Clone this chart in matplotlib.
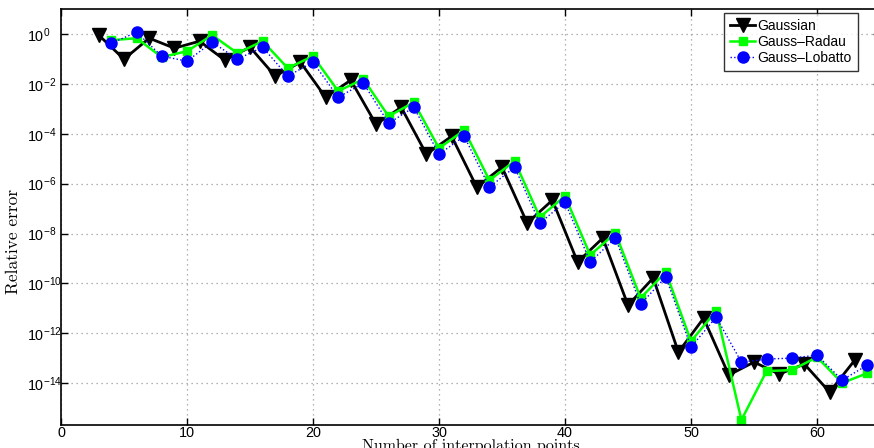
import matplotlib
matplotlib.use("Agg")
import matplotlib.pyplot as plt
import numpy as np
from matplotlib.ticker import FixedLocator, FuncFormatter, NullLocator

plt.rcParams['font.family'] = ['Liberation Sans', 'DejaVu Sans']
plt.rcParams['mathtext.default'] = 'regular'

# Data (log10 of relative error)
x_gauss = [3, 5, 7, 9, 11, 13, 15, 17, 19, 21, 23, 25, 27, 29, 31, 33, 35, 37, 39,
           41, 43, 45, 47, 49, 51, 53, 55, 57, 59, 61, 63]
log_gauss = [-0.05, -1.01, -0.17, -0.57, -0.29, -1.05, -0.53, -1.69, -1.13, -2.54,
             -1.85, -3.62, -2.94, -4.82, -4.10, -6.14, -5.34, -7.58, -6.66, -9.14,
             -8.18, -10.87, -9.78, -12.75, -11.39, -13.67, -13.15, -13.63, -13.23,
             -14.35, -13.07]

x_even = [4, 6, 8, 10, 12, 14, 16, 18, 20, 22, 24, 26, 28, 30, 32, 34, 36, 38, 40,
          42, 44, 46, 48, 50, 52, 54, 56, 58, 60, 62, 64]
log_radau = [-0.25, -0.17, -0.93, -0.69, -0.05, -0.77, -0.29, -1.37, -0.89, -2.29,
             -1.81, -3.30, -2.74, -4.58, -3.86, -5.86, -5.10, -7.34, -6.50, -8.86,
             -7.98, -10.58, -9.54, -12.31, -11.10, -15.47, -13.51, -13.47, -12.95,
             -13.99, -13.59]
log_lobatto = [-0.37, 0.07, -0.89, -1.09, -0.33, -1.01, -0.53, -1.69, -1.13, -2.54,
               -1.97, -3.58, -2.94, -4.82, -4.10, -6.14, -5.34, -7.58, -6.74, -9.14,
               -8.18, -10.83, -9.74, -12.55, -11.35, -13.15, -13.03, -12.99, -12.87,
               -13.87, -13.27]

labels = ['Gaussian', 'Gauss\u2013Radau', 'Gauss\u2013Lobatto']
xticks = [0, 10, 20, 30, 40, 50, 60]
yexps = [0, -2, -4, -6, -8, -10, -12, -14]

W, H = 874, 448
fig = plt.figure(figsize=(W / 100, H / 100), dpi=100)
# axes: x=0 at px 61, 12.6 px/unit; y top px 9, bottom px 425
xmax = 65
ax_w = xmax * 12.6
ax = fig.add_axes([61 / W, 1 - 425 / H, ax_w / W, (425 - 9) / H])

ax.plot(x_gauss, np.power(10.0, log_gauss), color='black', lw=2.0, marker='v',
        markersize=9.5, label=labels[0])
ax.plot(x_even, np.power(10.0, log_radau), color='#00ff00', lw=1.8, marker='s',
        markersize=6, label=labels[1])
ax.plot(x_even, np.power(10.0, log_lobatto), color='#0000ff', lw=1.0, ls=':',
        marker='o', markersize=8, label=labels[2])

ax.set_yscale('log')
ax.set_xlim(0, xmax)
ytop = 1
ybot = -(425 - 33.7) / 24.97
ax.set_ylim(10 ** ybot, 10 ** ytop)

ax.xaxis.set_major_locator(FixedLocator(xticks))
ax.yaxis.set_major_locator(FixedLocator([10.0 ** e for e in yexps]))
ax.yaxis.set_minor_locator(NullLocator())
ax.yaxis.set_major_formatter(FuncFormatter(lambda v, p: '$10^{%d}$' % int(round(np.log10(v)))))
ax.tick_params(direction='in', top=True, right=True, length=5, width=1,
               labelsize=10.4)
ax.tick_params(axis='x', pad=0.8)
# y tick labels are left-aligned at about px 27 (MATLAB style)
ax.tick_params(axis='y', pad=(61 - 27) * 0.72)
for lab in ax.get_yticklabels():
    lab.set_horizontalalignment('left')
ax.grid(True, which='major', color='#9a9a9a', ls=(0, (1, 3)), lw=0.9)
for s in ax.spines.values():
    s.set_linewidth(1.2)

ax.set_xlabel('Number of interpolation points', family='cmr10', fontsize=11.5)
ax.xaxis.set_label_coords(0.5, -(438.5 - 425) / 416)
ax.set_ylabel('Relative error', family='cmr10', fontsize=12.5)
ax.yaxis.set_label_coords(-(61 - 21) / ax_w, (425 - 241) / 416)

leg = ax.legend(loc='upper right', bbox_to_anchor=(858 / W, 1 - 13 / H),
                bbox_transform=fig.transFigure, frameon=True, fancybox=False,
                edgecolor='black', fontsize=10, borderpad=0.45, labelspacing=0.12,
                handlelength=1.8, handletextpad=0.15, borderaxespad=0)
leg.get_frame().set_linewidth(1.0)

fig.savefig('out.png', dpi=100)
